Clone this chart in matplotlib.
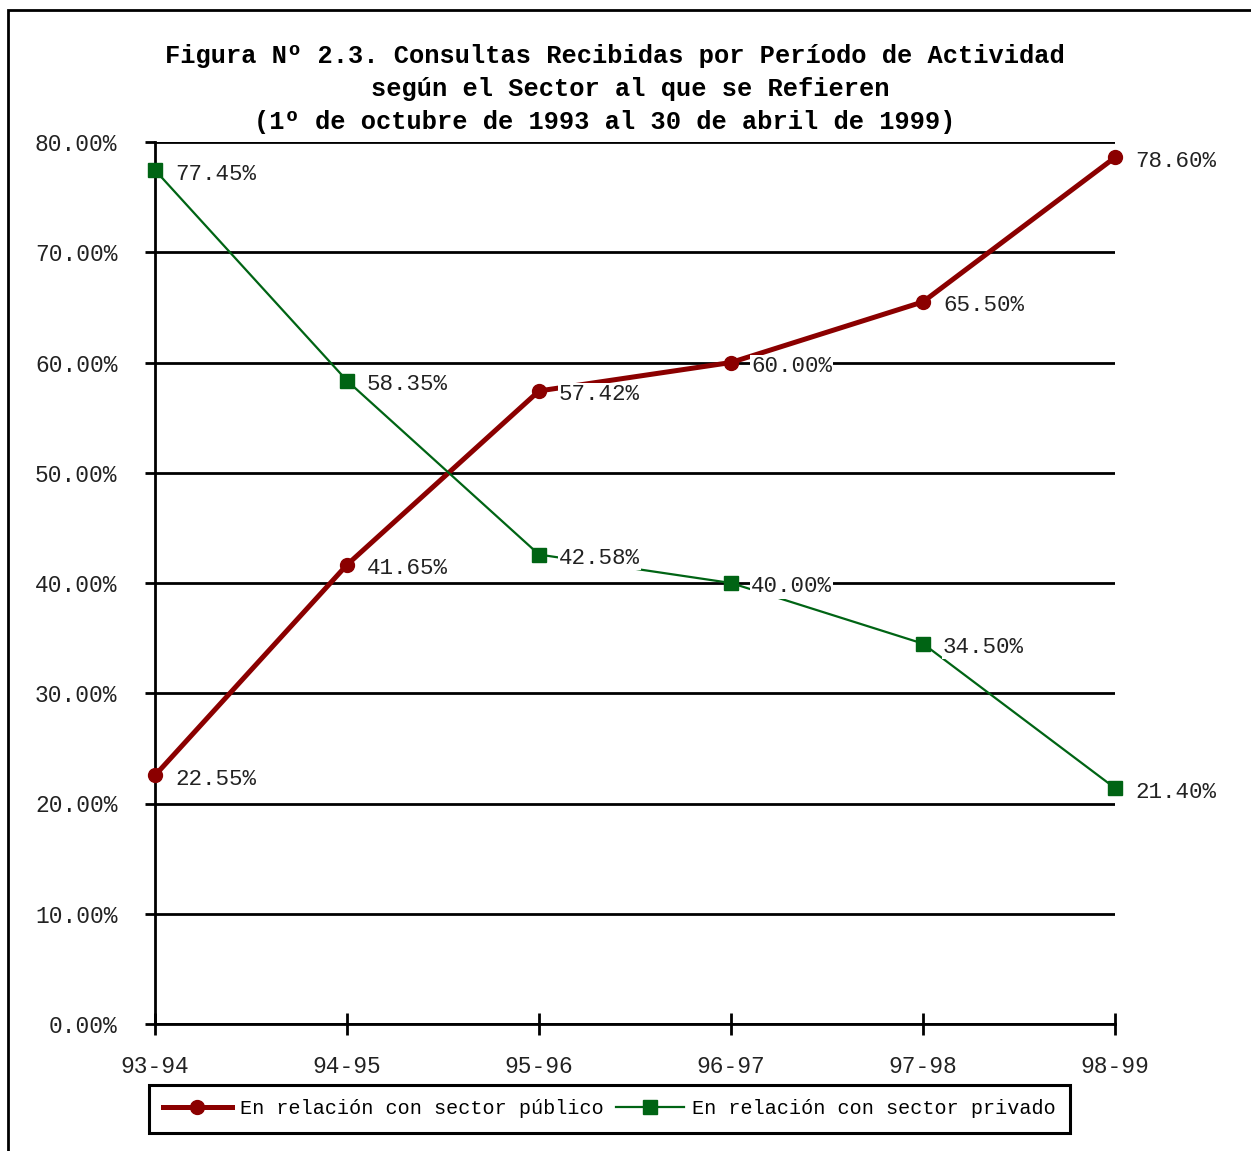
import matplotlib
matplotlib.use("Agg")
import matplotlib.pyplot as plt
from matplotlib.patches import Rectangle

periodos = ['93-94', '94-95', '95-96', '96-97', '97-98', '98-99']
publico = [22.55, 41.65, 57.42, 60.00, 65.50, 78.60]
privado = [77.45, 58.35, 42.58, 40.00, 34.50, 21.40]
yticks = [0, 10, 20, 30, 40, 50, 60, 70, 80]

titulo = ['Figura Nº 2.3. Consultas Recibidas por Período de Actividad',
          'según el Sector al que se Refieren',
          '(1º de octubre de 1993 al 30 de abril de 1999)']

ROJO = '#8b0000'
VERDE = '#006414'
MONO = 'Liberation Mono'

W, H = 1251, 1151
fig = plt.figure(figsize=(W / 100, H / 100), dpi=100)
ax = fig.add_axes([155 / W, 1 - 1024 / H, 960 / W, 882 / H])

# marco exterior
fig.patches.append(Rectangle((8 / W, -0.05), 1.2, 1 - 10 / H + 0.05,
                             transform=fig.transFigure, fill=False,
                             edgecolor='black', linewidth=2))

x = list(range(len(periodos)))
ax.plot(x, publico, color=ROJO, lw=3.6, marker='o', ms=10, clip_on=False,
        zorder=3, label='En relación con sector público')
ax.plot(x, privado, color=VERDE, lw=1.6, marker='s', ms=10, clip_on=False,
        zorder=3, label='En relación con sector privado')

for serie in (publico, privado):
    for xi, v in zip(x, serie):
        ax.annotate(f'{v:.2f}%', (xi, v), xytext=(20, -4),
                    textcoords='offset pixels', ha='left', va='center',
                    fontsize=16.2, family=MONO, color='#222222', zorder=4,
                    bbox=dict(boxstyle='square,pad=0.05', fc='white', ec='none'),
                    annotation_clip=False)

ax.set_xlim(0, 5)
ax.set_ylim(0, 80)
ax.set_xticks(x)
ax.set_xticklabels(periodos)
ax.set_yticks(yticks)
ax.set_yticklabels([f'{v:.2f}%' for v in yticks])
ax.yaxis.grid(True, color='black', lw=2, zorder=1)
ax.set_axisbelow(True)

for s in ('top', 'right'):
    ax.spines[s].set_visible(False)
for s in ('left', 'bottom'):
    ax.spines[s].set_linewidth(2)

ax.tick_params(axis='y', length=7, width=2, pad=20, labelsize=16.5, labelcolor='#222222')
ax.tick_params(axis='x', direction='inout', length=16, width=2, pad=14,
               labelsize=16.5, labelcolor='#222222')
for lab in ax.get_xticklabels() + ax.get_yticklabels():
    lab.set_family(MONO)

for texto, cx, cy in zip(titulo, (614.5, 630, 605), (56, 89, 122)):
    fig.text(cx / W, 1 - cy / H, texto, ha='center', va='center',
             fontsize=18.3, family=MONO, weight='bold')

leg = ax.legend(loc='center', bbox_to_anchor=(609.5 / W, 1 - 1108.5 / H),
                bbox_transform=fig.transFigure, ncol=2, frameon=True,
                fancybox=False, framealpha=1, prop={'family': MONO, 'size': 14.5},
                handlelength=3.4, handletextpad=0.4, columnspacing=0.6,
                borderpad=0.72, borderaxespad=0)
leg.get_frame().set_edgecolor('black')
leg.get_frame().set_linewidth(2.2)

fig.savefig('out.png', dpi=100)
